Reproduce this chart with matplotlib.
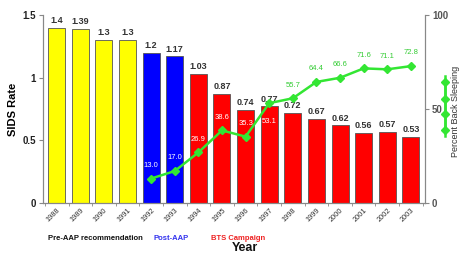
import matplotlib
matplotlib.use('Agg')
import matplotlib.pyplot as plt
import matplotlib.transforms as mtransforms
import numpy as np
from matplotlib.lines import Line2D

plt.rcParams['font.family'] = ['Liberation Sans', 'DejaVu Sans']

years = ['1988', '1989', '1990', '1991', '1992', '1993', '1994', '1995',
         '1996', '1997', '1998', '1999', '2000', '2001', '2002', '2003']
sids_rate = [1.4, 1.39, 1.3, 1.3, 1.2, 1.17, 1.03, 0.87,
             0.74, 0.77, 0.72, 0.67, 0.62, 0.56, 0.57, 0.53]
rate_labels = ['1.4', '1.39', '1.3', '1.3', '1.2', '1.17', '1.03', '0.87',
               '0.74', '0.77', '0.72', '0.67', '0.62', '0.56', '0.57', '0.53']
bar_colors = ['#ffff00'] * 4 + ['#0000ff'] * 2 + ['#ff0000'] * 10

back_years = ['1992', '1993', '1994', '1995', '1996', '1997',
              '1998', '1999', '2000', '2001', '2002', '2003']
back_pct = [13.0, 17.0, 26.9, 38.6, 35.3, 53.1, 55.7, 64.4, 66.6, 71.6, 71.1, 72.8]
back_labels = ['13.0', '17.0', '26.9', '38.6', '35.3', '53.1',
               '55.7', '64.4', '66.6', '71.6', '71.1', '72.8']

green = '#33e633'

fig = plt.figure(figsize=(4.61, 2.54), dpi=100)
ax1 = fig.add_axes([0.0933, 0.2008, 0.8287, 0.7402])
ax2 = ax1.twinx()

x = np.arange(len(years))
bars = ax1.bar(x, sids_rate, width=0.72, color=bar_colors, edgecolor='#555555', linewidth=0.6)
for b, lab in zip(bars, rate_labels):
    ax1.annotate(lab, (b.get_x() + b.get_width() / 2, b.get_height()),
                 xytext=(0, 2), textcoords='offset points', ha='center', va='bottom',
                 fontsize=6.5, fontweight='bold', color='#333333')

ax1.set_xlim(-0.58, len(years) - 1 + 0.6)
ax1.set_ylim(0, 1.5)
ax1.set_yticks([0, 0.5, 1, 1.5])
ax1.set_yticklabels(['0', '0.5', '1', '1.5'], fontsize=7, fontweight='bold', color='#222222')
ax1.set_ylabel('SIDS Rate', fontsize=8, fontweight='bold', labelpad=3)
ax1.set_xticks(x)
ax1.set_xticklabels(years, rotation=45, ha='right', rotation_mode='anchor',
                    fontsize=5.3, color='#333333')
shift = mtransforms.ScaledTranslation(-4 / 100, 0, fig.dpi_scale_trans)
for lbl in ax1.get_xticklabels():
    lbl.set_transform(lbl.get_transform() + shift)
ax1.tick_params(axis='x', length=0, pad=3)
ax1.set_xticks(np.arange(len(years) + 1) - 0.5, minor=True)
ax1.tick_params(axis='x', which='minor', length=2, color='#888888')
ax1.tick_params(axis='y', length=3, color='#888888', pad=2)

bx = [years.index(y) for y in back_years]
ax2.plot(bx, back_pct, color=green, linewidth=1.8, marker='D', markersize=4,
         markerfacecolor=green, markeredgecolor=green)
for i, (xx, v, lab) in enumerate(zip(bx, back_pct, back_labels)):
    col = 'white' if i < 6 else '#33cc33'
    dy = -13 if lab == '53.1' else 9.5
    ax2.annotate(lab, (xx, v), xytext=(0, dy), textcoords='offset points',
                 ha='center', va='center', fontsize=5.5, color=col)
ax2.set_ylim(0, 100)
ax2.set_yticks([0, 50, 100])
ax2.set_yticklabels(['0', '50', '100'], fontsize=7, fontweight='bold', color='#555555')
ax2.tick_params(axis='y', length=3, color='#888888', pad=2)

for a in (ax1, ax2):
    a.spines['top'].set_visible(False)
    for s in ('left', 'right', 'bottom'):
        a.spines[s].set_color('#888888')
        a.spines[s].set_linewidth(0.8)

# right-side legend for the line
fig.add_artist(Line2D([445 / 461] * 4, [1 - 82 / 254, 1 - 99 / 254, 1 - 114 / 254, 1 - 130 / 254],
                      transform=fig.transFigure, color=green, linewidth=1.8,
                      marker='D', markersize=4))
fig.add_artist(Line2D([445 / 461] * 2, [1 - 76 / 254, 1 - 136 / 254],
                      transform=fig.transFigure, color=green, linewidth=1.8))
fig.text(455 / 461, 1 - 111 / 254, 'Percent Back Sleeping', rotation=90,
         ha='center', va='center', fontsize=6.5, color='#333333')

fig.text(95 / 461, 1 - 238 / 254, 'Pre-AAP recommendation', ha='center', va='center',
         fontsize=5.5, fontweight='bold', color='#111111')
fig.text(171 / 461, 1 - 238 / 254, 'Post-AAP', ha='center', va='center',
         fontsize=5.5, fontweight='bold', color='#3333ee')
fig.text(238 / 461, 1 - 238 / 254, 'BTS Campaign', ha='center', va='center',
         fontsize=5.5, fontweight='bold', color='#ee2222')
fig.text(245 / 461, 1 - 248 / 254, 'Year', ha='center', va='center',
         fontsize=9, fontweight='bold', color='#111111')

fig.savefig('out.png', dpi=100)
